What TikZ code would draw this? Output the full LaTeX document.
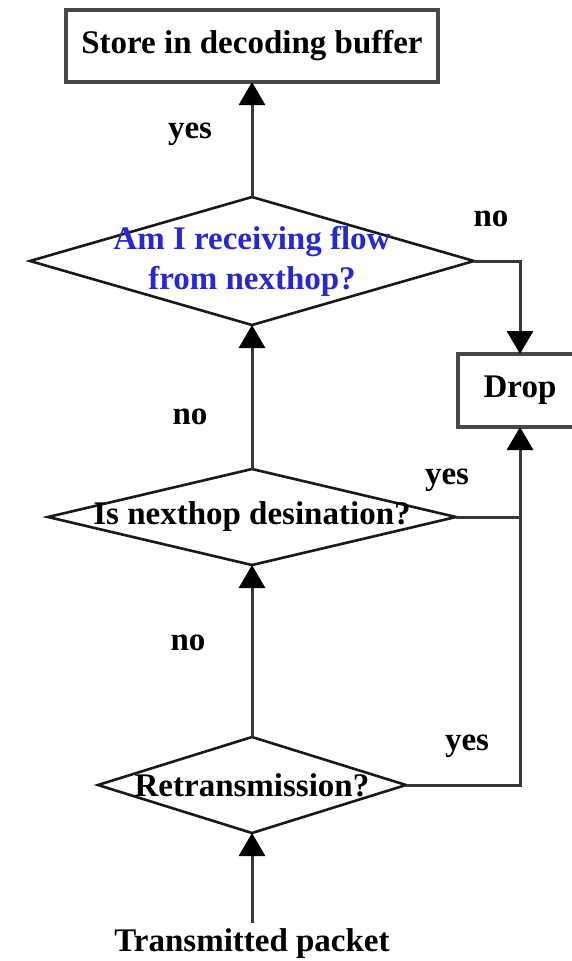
\documentclass[tikz,border=0pt]{standalone}
\usepackage{fontspec}
\setmainfont{Liberation Serif}
\usetikzlibrary{shapes.geometric,arrows.meta}
\definecolor{askblue}{RGB}{40,40,210}
\begin{document}
\begin{tikzpicture}[x=1pt,y=-1pt,
  every node/.style={font=\fontsize{33}{40}\selectfont\bfseries},
  stepbox/.style={rectangle, draw=black!72, line width=3.6pt, inner sep=0pt, outer sep=0pt},
  test/.style={diamond, draw=black!90, line width=2.6pt, inner sep=0pt, outer sep=0pt},
  flow/.style={draw=black!78, line width=3pt, -{Triangle[length=23pt,width=26pt,color=black]}},
  joinline/.style={draw=black!78, line width=3pt},
  answer/.style={anchor=base, inner sep=0pt}
]
\useasboundingbox (0,0) rectangle (572,961);
\clip (0,0) rectangle (572,961);

% process boxes
\node[stepbox, minimum width=372pt, minimum height=72pt] (store) at (252,46) {Store in decoding buffer};
\node[stepbox, minimum width=124pt, minimum height=73pt] (drop) at (520,390.5) {Drop};

% decisions
\node[test, minimum width=444pt, minimum height=128pt,
      label={[askblue, align=center]center:Am I receiving flow\\from nexthop?}] (d1) at (252,261) {};
\node[test, minimum width=408pt, minimum height=96pt,
      label={center:Is nexthop desination?}] (d2) at (252,517) {};
\node[test, minimum width=308pt, minimum height=96pt,
      label={center:Retransmission?}] (d3) at (252,785) {};

% input
\node[anchor=base, inner xsep=0pt, inner ysep=5pt] (src) at (252,951) {Transmitted packet};

% connectors
\draw[flow] (src.north) -- (d3.south);
\draw[flow] (d3.north) -- (d2.south);
\draw[flow] (d2.north) -- (d1.south);
\draw[flow] (d1.north) -- (store.south);
\draw[flow] (d1.east) -| (drop.north);
\draw[flow] (d3.east) -| (drop.south);
\draw[joinline] (d2.east) -- (d2.east -| drop.south);

% branch labels
\node[answer] (yes1) at (190,138) {yes};
\node[answer] (no1) at (491,226.5) {no};
\node[answer] (no2) at (190,424.5) {no};
\node[answer] (yes2) at (447,484.5) {yes};
\node[answer] (no3) at (188,650.5) {no};
\node[answer] (yes3) at (467,750.5) {yes};
\end{tikzpicture}
\end{document}
